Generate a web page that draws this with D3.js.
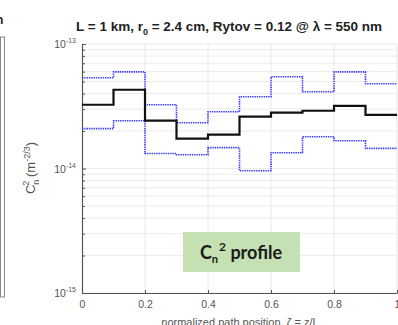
<!DOCTYPE html>
<html>
<head>
<meta charset="utf-8">
<script src="https://cdn.jsdelivr.net/npm/d3@7"></script>
<style>
  body { margin: 0; background: #fff; }
  svg { display: block; font-family: "Liberation Sans", Arial, sans-serif; }
</style>
</head>
<body>
<div id="chart"></div>
<script>
// path position of each segment start (normalized z/L)
const positions = [0, 0.1, 0.2, 0.3, 0.4, 0.5, 0.6, 0.7, 0.8, 0.9];
const meanCn2 = [3.25e-14, 4.29e-14, 2.42e-14, 1.74e-14, 1.87e-14, 2.61e-14, 2.81e-14, 2.91e-14, 3.19e-14, 2.70e-14];
const upperCn2 = [5.35e-14, 5.97e-14, 3.25e-14, 2.33e-14, 2.86e-14, 3.77e-14, 5.45e-14, 4.13e-14, 5.97e-14, 4.79e-14];
const lowerCn2 = [2.09e-14, 2.42e-14, 1.32e-14, 1.29e-14, 1.47e-14, 9.6e-15, 1.34e-14, 1.80e-14, 1.67e-14, 1.45e-14];
const xTicks = [0, 0.2, 0.4, 0.6, 0.8, 1];
const xTickLabels = ["0", "0.2", "0.4", "0.6", "0.8", "1"];
const yTicks = [1e-15, 1e-14, 1e-13];
const yTickExps = ["-15", "-14", "-13"];

const width = 398, height = 325;
const margin = { top: 44, right: 1, bottom: 32, left: 82 };

const svg = d3.select("#chart").append("svg")
  .attr("width", width)
  .attr("height", height);

const x = d3.scaleLinear()
  .domain([0, 1])
  .range([margin.left, width - margin.right]);

const y = d3.scaleLog()
  .domain([1e-15, 1e-13])
  .range([height - margin.bottom, margin.top]);

// minor log values for grid lines
const minor = [];
[1e-15, 1e-14].forEach(d => { for (let k = 2; k <= 9; k++) minor.push(d * k); });

// grid
svg.append("g")
  .attr("stroke", "#e6e6e6")
  .attr("stroke-width", 0.8)
  .selectAll("line")
  .data(minor.concat(yTicks))
  .join("line")
  .attr("x1", margin.left)
  .attr("x2", width - margin.right)
  .attr("y1", d => y(d))
  .attr("y2", d => y(d));

svg.append("g")
  .attr("stroke", "#e2e2e2")
  .attr("stroke-width", 0.8)
  .selectAll("line")
  .data(xTicks.slice(1))
  .join("line")
  .attr("x1", d => x(d))
  .attr("x2", d => x(d))
  .attr("y1", margin.top)
  .attr("y2", height - margin.bottom);

// axes
const xAxis = svg.append("g")
  .attr("transform", `translate(0,${height - margin.bottom})`)
  .call(d3.axisBottom(x).tickValues(xTicks).tickSizeInner(-3).tickSizeOuter(0)
    .tickFormat((d, i) => xTickLabels[i]));
xAxis.select(".domain").attr("stroke", "#555").attr("stroke-width", 1.2);
xAxis.selectAll(".tick line").attr("stroke", "#555");
xAxis.selectAll(".tick text")
  .attr("y", 8)
  .attr("fill", "#555")
  .attr("font-size", 10.5)
  .attr("font-family", "Liberation Sans, Arial, sans-serif");

const yAxis = svg.append("g")
  .attr("transform", `translate(${margin.left},0)`)
  .call(d3.axisLeft(y).tickValues(minor.concat(yTicks)).tickSizeInner(-3).tickSizeOuter(0)
    .tickFormat(""));
yAxis.select(".domain").attr("stroke", "#555").attr("stroke-width", 1.2);
yAxis.selectAll(".tick line").attr("stroke", "#555")
  .attr("x2", d => yTicks.includes(d) ? 4 : 3);

const yLabels = svg.append("g")
  .attr("fill", "#555")
  .attr("font-size", 10.5)
  .selectAll("text")
  .data(yTicks)
  .join("text")
  .attr("text-anchor", "end")
  .attr("x", margin.left - 6)
  .attr("y", d => y(d) + 4);
yLabels.append("tspan").text("10");
yLabels.append("tspan")
  .attr("font-size", 7)
  .attr("dy", -5)
  .text((d, i) => yTickExps[i]);

// step lines
const stepData = vals => positions.map((p, i) => [p, vals[i]]).concat([[1, vals[vals.length - 1]]]);
const line = d3.line()
  .x(d => x(d[0]))
  .y(d => y(d[1]))
  .curve(d3.curveStepAfter);

[upperCn2, lowerCn2].forEach(vals => {
  svg.append("path")
    .datum(stepData(vals))
    .attr("fill", "none")
    .attr("stroke", "#3a3aff")
    .attr("stroke-width", 1.6)
    .attr("stroke-dasharray", "1.4,0.9")
    .attr("d", line);
});

svg.append("path")
  .datum(stepData(meanCn2))
  .attr("fill", "none")
  .attr("stroke", "#111")
  .attr("stroke-width", 2.2)
  .attr("d", line);

// title
const title = svg.append("text")
  .attr("x", 76)
  .attr("y", 31)
  .attr("font-size", 13.5)
  .attr("font-weight", "bold")
  .attr("fill", "#222");
title.append("tspan").text("L = 1 km, r");
title.append("tspan").attr("font-size", 9).attr("dy", 4).text("0");
title.append("tspan").attr("dy", -4).text(" = 2.4 cm, Rytov = 0.12 @ λ = 550 nm");

// y label
const yl = svg.append("text")
  .attr("transform", `translate(35,168) rotate(-90)`)
  .attr("text-anchor", "middle")
  .attr("fill", "#555")
  .attr("font-size", 13);
yl.append("tspan").text("C");
yl.append("tspan").attr("font-size", 9).attr("dy", 4).text("n");
yl.append("tspan").attr("font-size", 9).attr("dy", -10).attr("dx", -6).text("2");
yl.append("tspan").attr("dy", 6).text(" (m");
yl.append("tspan").attr("font-size", 9).attr("dy", -5).text("-2/3");
yl.append("tspan").attr("dy", 5).text(")");

// x label
svg.append("text")
  .attr("x", 240)
  .attr("y", 326)
  .attr("text-anchor", "middle")
  .attr("fill", "#555")
  .attr("font-size", 11)
  .text("normalized path position, ζ = z/L");

// profile tag
svg.append("rect")
  .attr("x", 183)
  .attr("y", 232)
  .attr("width", 117)
  .attr("height", 40)
  .attr("fill", "#c5e0b3");
const tag = svg.append("text")
  .attr("x", 241)
  .attr("y", 259)
  .attr("text-anchor", "middle")
  .attr("font-family", "Lato, 'Open Sans', sans-serif")
  .attr("font-weight", "bold")
  .attr("font-size", 18)
  .attr("fill", "#1a1a1a");
tag.append("tspan").text("C");
tag.append("tspan").attr("font-size", 11).attr("dy", 4).text("n");
tag.append("tspan").attr("font-size", 12).attr("dy", -12).attr("dx", 1).text("2");
tag.append("tspan").attr("dy", 8).text(" profile");

// neighbouring panel edge on the left
svg.append("rect")
  .attr("x", 0.5)
  .attr("y", 37)
  .attr("width", 4)
  .attr("height", 260)
  .attr("fill", "none")
  .attr("stroke", "#888")
  .attr("stroke-width", 1);
svg.append("text")
  .attr("x", -4)
  .attr("y", 24)
  .attr("font-size", 12)
  .attr("font-weight", "bold")
  .attr("fill", "#222")
  .text("n");
</script>
</body>
</html>
